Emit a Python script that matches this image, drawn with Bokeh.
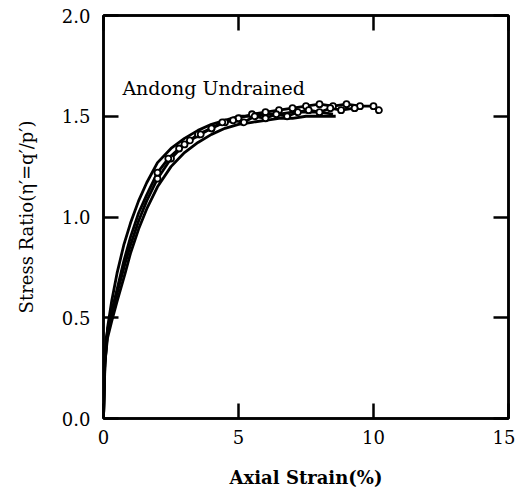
from bokeh.plotting import figure
from bokeh.models import LinearAxis, FixedTicker, PrintfTickFormatter, Label, Range1d
from bokeh.embed import file_html
from bokeh.resources import INLINE

# ---- data ----
x_ticks = [0, 5, 10, 15]
y_ticks = [0.0, 0.5, 1.0, 1.5, 2.0]

c1_x = [0, 0.05, 0.15, 0.3, 0.5, 0.75, 1.0, 1.3, 1.6, 2.0, 2.5, 3.0, 3.5, 4.0, 4.5, 5.0, 5.5, 6.0, 6.5, 7.0, 7.5, 8.0, 8.5]
c1_y = [0, 0.25, 0.45, 0.58, 0.72, 0.86, 0.97, 1.08, 1.17, 1.27, 1.34, 1.39, 1.43, 1.46, 1.48, 1.50, 1.50, 1.51, 1.51, 1.52, 1.52, 1.52, 1.51]

c2_x = [0, 0.05, 0.1, 0.2, 0.4, 0.6, 0.8, 1.0, 1.3, 1.6, 2.0, 2.5, 3.0, 3.5, 4.0, 4.5, 5.0, 5.5, 6.0, 6.5, 7.0, 7.5, 8.0, 8.5, 9.0, 9.5, 10.0, 10.2]
c2_y = [0, 0.30, 0.40, 0.47, 0.57, 0.67, 0.77, 0.86, 0.98, 1.08, 1.19, 1.29, 1.36, 1.41, 1.44, 1.47, 1.49, 1.51, 1.52, 1.53, 1.54, 1.55, 1.56, 1.55, 1.56, 1.55, 1.55, 1.53]

c3_x = [0, 0.05, 0.15, 0.3, 0.5, 0.8, 1.0, 1.3, 1.6, 2.0, 2.5, 3.0, 3.5, 4.0, 4.5, 5.0, 5.5, 6.0, 6.5, 7.0, 7.5, 8.0, 8.6]
c3_y = [0, 0.28, 0.40, 0.48, 0.58, 0.72, 0.82, 0.94, 1.04, 1.15, 1.25, 1.32, 1.37, 1.41, 1.44, 1.46, 1.47, 1.48, 1.49, 1.49, 1.50, 1.50, 1.50]

c4_x = [0, 0.05, 0.15, 0.3, 0.5, 0.75, 1.0, 1.3, 1.6, 2.0, 2.4, 2.8, 3.2, 3.6, 4.0, 4.4, 4.8, 5.2, 5.6, 6.0, 6.4, 6.8, 7.2, 7.6, 8.0, 8.4, 8.8, 9.3]
c4_y = [0, 0.27, 0.43, 0.53, 0.64, 0.78, 0.90, 1.02, 1.11, 1.22, 1.29, 1.34, 1.38, 1.41, 1.44, 1.47, 1.48, 1.47, 1.50, 1.49, 1.51, 1.50, 1.52, 1.53, 1.52, 1.54, 1.53, 1.54]

annotation = "Andong Undrained"
x_title = "Axial Strain(%)"
y_title = "Stress Ratio(\u03b7\u2032=q\u2032/p\u2032)"

FONT = "DejaVu Serif"

p = figure(output_backend="svg", toolbar_location=None,
           frame_width=405, frame_height=403,
           x_range=Range1d(0, 15), y_range=Range1d(0, 2.0),
           min_border_left=103, min_border_right=7,
           min_border_top=15, min_border_bottom=82,
           x_axis_label=x_title, y_axis_label=y_title)

p.grid.visible = False
p.background_fill_color = "white"
p.border_fill_color = "white"
p.outline_line_color = "black"
p.outline_line_width = 2.5

for ax in (p.xaxis[0], p.yaxis[0]):
    ax.axis_line_width = 2.5
    ax.major_tick_line_width = 2.5
    ax.major_tick_in = 15
    ax.major_tick_out = 0
    ax.minor_tick_line_color = None
    ax.major_label_text_font = FONT
    ax.major_label_text_font_size = "18px"
    ax.major_label_text_color = "black"
    ax.axis_label_text_font = FONT
    ax.axis_label_text_font_size = "18px"
    ax.axis_label_text_color = "black"

p.xaxis[0].ticker = FixedTicker(ticks=x_ticks)
p.yaxis[0].ticker = FixedTicker(ticks=y_ticks)
p.yaxis[0].formatter = PrintfTickFormatter(format="%.1f")
p.xaxis[0].major_label_standoff = 11
p.yaxis[0].major_label_standoff = 13
p.xaxis[0].axis_label_standoff = 20
p.yaxis[0].axis_label_standoff = 22
p.xaxis[0].axis_label_text_font_style = "bold"
p.yaxis[0].axis_label_text_font_style = "normal"

for side, ticks in (("right", y_ticks), ("above", x_ticks)):
    ax = LinearAxis(ticker=FixedTicker(ticks=ticks))
    ax.axis_line_width = 2.5
    ax.major_tick_line_width = 2.5
    ax.major_tick_in = 15
    ax.major_tick_out = 0
    ax.minor_tick_line_color = None
    ax.major_label_overrides = {t: "" for t in ticks}
    ax.major_label_standoff = 0
    p.add_layout(ax, side)

# curves
for cx, cy in ((c1_x, c1_y), (c2_x, c2_y), (c3_x, c3_y), (c4_x, c4_y)):
    p.line(cx, cy, line_color="black", line_width=2.8, line_join="round")

# open-circle data points along the upper parts
p.scatter(c2_x[10:], c2_y[10:], marker="circle", size=6, fill_color="white",
          line_color="black", line_width=1.8)
p.scatter(c4_x[9:], c4_y[9:], marker="circle", size=6, fill_color="white",
          line_color="black", line_width=1.8)

p.add_layout(Label(x=0.7, y=1.64, text=annotation, text_font=FONT,
                   text_font_size="19px", text_color="black",
                   text_baseline="alphabetic"))

open("out.html", "w").write(file_html(p, INLINE))
